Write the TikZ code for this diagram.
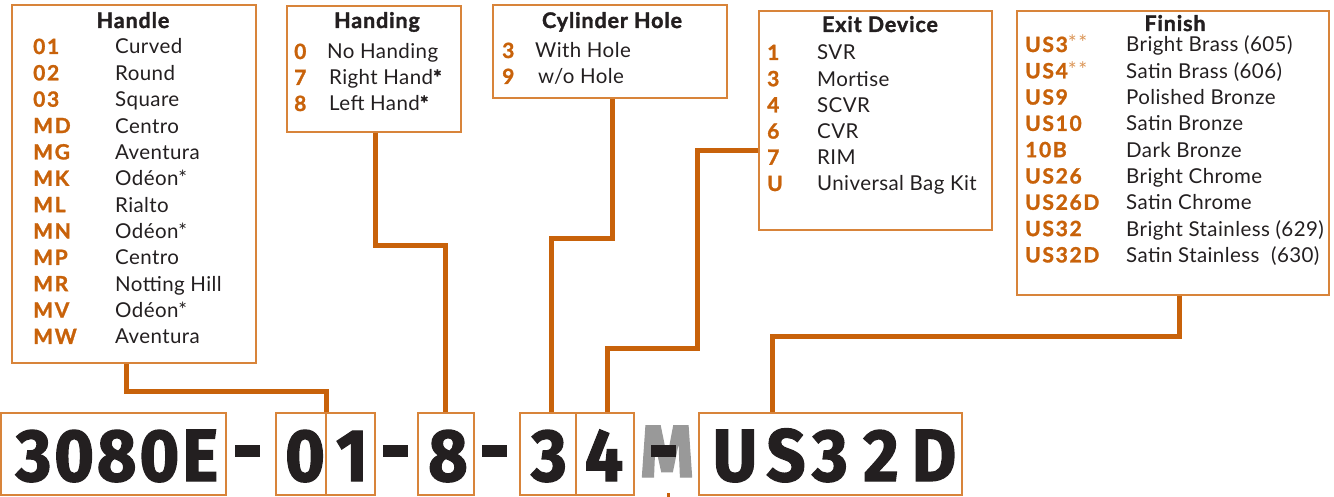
\documentclass[tikz,border=0pt]{standalone}
\usepackage{fontspec}
\setmainfont{Lato}[LetterSpace=2]
\newfontfamily\codefont{Lato}[BoldFeatures={FakeBold=1.3}, LetterSpace=8]
\newfontfamily\titlefont{Lato}[BoldFeatures={FakeBold=1.6}, LetterSpace=4]
\newfontfamily\bigfont{Fira Sans}[BoldFeatures={FakeBold=1.8, FakeStretch=0.92, LetterSpace=4}]
\usetikzlibrary{calc}
\definecolor{org}{HTML}{C8620A}
\definecolor{bord}{HTML}{D8843A}
\definecolor{ink}{HTML}{231F20}
\definecolor{star}{HTML}{DB9556}
\definecolor{mgray}{HTML}{999999}
\tikzset{
  box/.style={draw=bord, line width=1.6pt, anchor=north west, inner sep=0pt},
  conn/.style={draw=org, line width=5pt},
  ttl/.style={anchor=base, text=ink, inner sep=0pt, font=\titlefont\bfseries\fontsize{21.5}{21}\selectfont},
  code/.style={anchor=base west, text=org, inner sep=0pt, font=\codefont\bfseries\fontsize{21}{21}\selectfont},
  desc/.style={anchor=base west, text=ink, inner sep=0pt, font=\fontsize{20.5}{20}\selectfont},
  big/.style={anchor=base, text=ink, inner sep=0pt, font=\bigfont\bfseries\fontsize{74}{74}\selectfont},
  dashbar/.style={fill=ink, inner sep=0pt, minimum width=25pt, minimum height=12pt}
}
\begin{document}
\begin{tikzpicture}[x=1pt,y=-1pt]
\useasboundingbox (0,0) rectangle (1334,497);
% ---------- boxes ----------
\node[box, minimum width=244pt, minimum height=358pt] (handle) at (11,4) {};
\node[box, minimum width=174pt, minimum height=126pt] (handing) at (286,5) {};
\node[box, minimum width=234pt, minimum height=93pt] (cyl) at (492,4) {};
\node[box, minimum width=233pt, minimum height=219pt] (exit) at (758,10) {};
\node[box, minimum width=312pt, minimum height=284pt] (finish) at (1016,10) {};
% ---------- Handle ----------
\node[ttl] (t-handle) at (133,28) {Handle};
\foreach \c/\d [count=\i] in {01/Curved,02/Round,03/Square,MD/Centro,MG/Aventura,MK/Odéon*,ML/Rialto,MN/Odéon*,MP/Centro,MR/Notting Hill,MV/Odéon*,MW/Aventura}{
  \node[code] (hc\i) at (33,{54+26.36*(\i-1)}) {\c};
  \node[desc] (hd\i) at (115,{54+26.36*(\i-1)}) {\d};
}
% ---------- Handing ----------
\node[ttl] (t-handing) at (377,28) {Handing};
\node[code] (gc1) at (294,59) {0};
\node[desc] (gd1) at (327,59) {No Handing};
\node[code] (gc2) at (294,85) {7};
\node[desc] (gd2) at (329,85) {Right Hand{\codefont\bfseries *}};
\node[code] (gc3) at (294,111) {8};
\node[desc] (gd3) at (329,111) {Left Hand{\codefont\bfseries *}};
% ---------- Cylinder Hole ----------
\node[ttl] (t-cyl) at (612,28) {Cylinder Hole};
\node[code] (cc1) at (502,58) {3};
\node[desc] (cd1) at (535,58) {With Hole};
\node[code] (cc2) at (502,84) {9};
\node[desc] (cd2) at (538,84) {w/o Hole};
% ---------- Exit Device ----------
\node[ttl] (t-exit) at (880,32) {Exit Device};
\foreach \c/\d [count=\i] in {1/SVR,3/Mortise,4/SCVR,6/CVR,7/RIM,U/Universal Bag Kit}{
  \node[code] (ec\i) at (767,{60+26.2*(\i-1)}) {\c};
  \node[desc] (ed\i) at (817,{60+26.2*(\i-1)}) {\d};
}
% ---------- Finish ----------
\node[ttl] (t-finish) at (1175,31) {Finish};
\foreach \c/\d [count=\i] in {{US3{\color{star}\mdseries\raisebox{1pt}{**}}}/{Bright Brass (605)},{US4{\color{star}\mdseries\raisebox{1pt}{**}}}/{Satin Brass (606)},US9/Polished Bronze,US10/Satin Bronze,10B/Dark Bronze,US26/Bright Chrome,US26D/Satin Chrome,US32/{Bright Stainless (629)},US32D/{Satin Stainless\hspace{6pt} (630)}}{
  \node[code] (fc\i) at (1025,{52+26.3*(\i-1)}) {\c};
  \node[desc] (fd\i) at (1126,{52+26.3*(\i-1)}) {\d};
}
% ---------- bottom code ----------
\node[box, minimum width=225pt, minimum height=82pt] (b3080) at (0,412) {};
\node[box, minimum width=50pt, minimum height=82pt] (b0) at (275,412) {};
\node[box, minimum width=49pt, minimum height=82pt] (b1) at (325,412) {};
\node[box, minimum width=56pt, minimum height=82pt] (b8) at (417,412) {};
\node[box, minimum width=56pt, minimum height=82pt] (b3) at (519,412) {};
\node[box, minimum width=58pt, minimum height=82pt] (b4) at (575,412) {};
\node[box, minimum width=263pt, minimum height=82pt] (bus) at (698,412) {};

\node[big] (x3080) at (117,481) {3080E};
\node[big] (x0) at (305,481) {0};
\node[big] (x1) at (352,481) {1};
\node[big] (x8) at (448,481) {8};
\node[big] (x3) at (549,481) {3};
\node[big] (x4) at (604,481) {4};
\node[big, text=mgray] (xM) at (667,477) {M};
\node[big] (xU) at (735,481) {U};
\node[big] (xS) at (786,481) {S};
\node[big] (x3b) at (830,481) {3};
\node[big] (x2) at (881,481) {2};
\node[big] (xD) at (934,481) {D};

\node[dashbar] (d1) at (247,451) {};
\node[dashbar] (d2) at (395.5,451) {};
\node[dashbar] (d3) at (494.5,451) {};
\node[dashbar] (d4) at (663.5,451) {};

% ---------- connectors ----------
\coordinate (k1) at (126,391);
\draw[conn] (k1 |- handle.south) -- (k1) -| (b0.north east);
\coordinate (k2) at (375,246);
\draw[conn] (k2 |- handing.south) -- (k2) -| (b8.north);
\coordinate (k3) at (612,239);
\coordinate (k3b) at (551,239);
\draw[conn] (k3 |- cyl.south) -- (k3) -- (k3b) -- (k3b |- b3.north);
\coordinate (k4) at (697,151);
\coordinate (k4b) at (697,348);
\coordinate (k4c) at (607,348);
\draw[conn] (exit.west |- k4) -- (k4) -- (k4b) -- (k4c) -- (k4c |- b4.north);
\coordinate (k5) at (1179,336);
\coordinate (k5b) at (772,336);
\draw[conn] (k5 |- finish.south) -- (k5) -- (k5b) -- (k5b |- bus.north);
\coordinate (stubtop) at (668,493);
\coordinate (stubbot) at (668,497);
\draw[draw=org, line width=3pt] (stubtop) -- (stubbot);
\end{tikzpicture}
\end{document}
